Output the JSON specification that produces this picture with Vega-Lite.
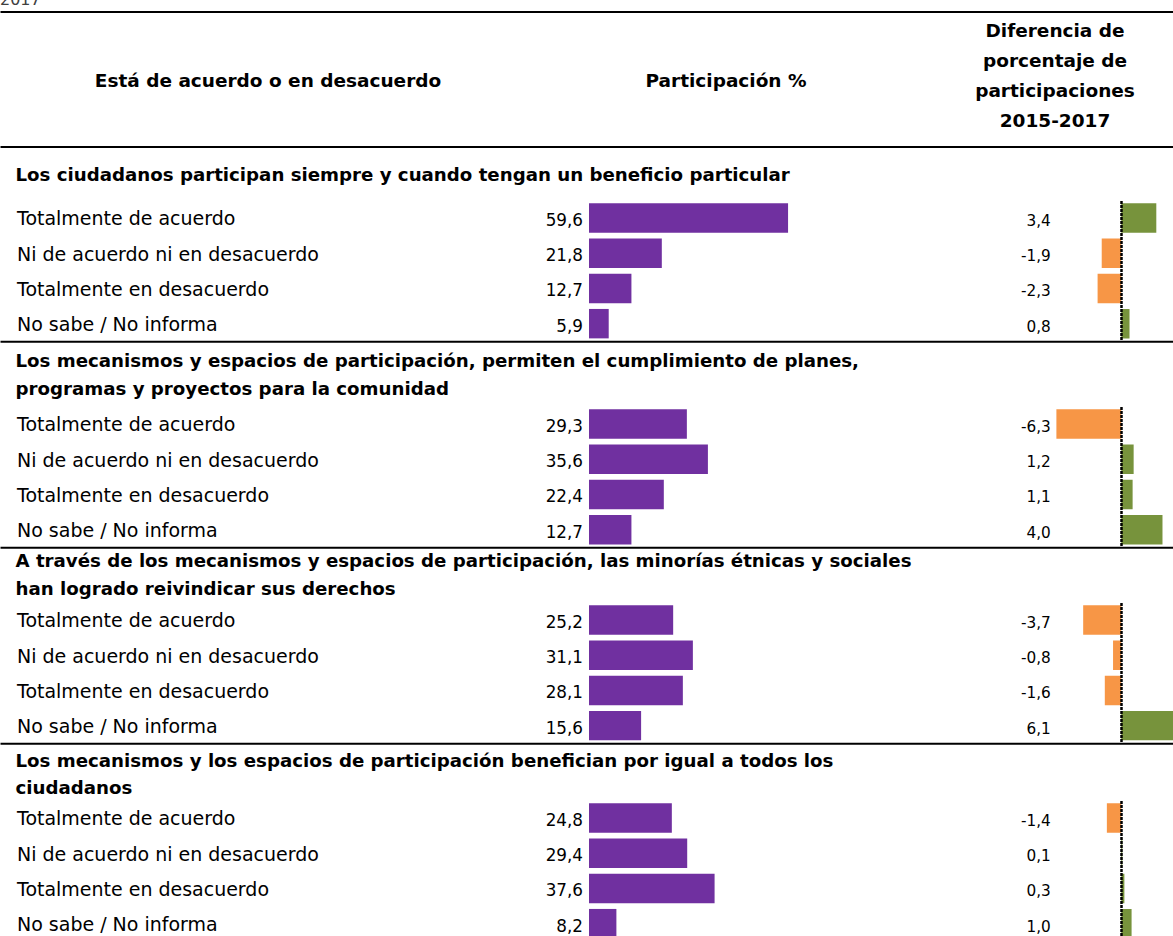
{
  "$schema": "https://vega.github.io/schema/vega-lite/v6.json",
  "background": "white",
  "padding": {"top": -8.6, "left": 0, "right": 0, "bottom": 0},
  "spacing": 0,
  "config": {
    "font": "DejaVu Sans",
    "view": {"stroke": null},
    "locale": {"number": {"decimal": ",", "thousands": ".", "grouping": [3], "currency": ["", " €"], "minus": "-"}}
  },
  "datasets": {
    "encuesta": [
      {"grupo": 1, "respuesta": "Totalmente de acuerdo", "participacion": 59.6, "diferencia": 3.4},
      {"grupo": 1, "respuesta": "Ni de acuerdo ni en desacuerdo", "participacion": 21.8, "diferencia": -1.9},
      {"grupo": 1, "respuesta": "Totalmente en desacuerdo", "participacion": 12.7, "diferencia": -2.3},
      {"grupo": 1, "respuesta": "No sabe / No informa", "participacion": 5.9, "diferencia": 0.8},
      {"grupo": 2, "respuesta": "Totalmente de acuerdo", "participacion": 29.3, "diferencia": -6.3},
      {"grupo": 2, "respuesta": "Ni de acuerdo ni en desacuerdo", "participacion": 35.6, "diferencia": 1.2},
      {"grupo": 2, "respuesta": "Totalmente en desacuerdo", "participacion": 22.4, "diferencia": 1.1},
      {"grupo": 2, "respuesta": "No sabe / No informa", "participacion": 12.7, "diferencia": 4.0},
      {"grupo": 3, "respuesta": "Totalmente de acuerdo", "participacion": 25.2, "diferencia": -3.7},
      {"grupo": 3, "respuesta": "Ni de acuerdo ni en desacuerdo", "participacion": 31.1, "diferencia": -0.8},
      {"grupo": 3, "respuesta": "Totalmente en desacuerdo", "participacion": 28.1, "diferencia": -1.6},
      {"grupo": 3, "respuesta": "No sabe / No informa", "participacion": 15.6, "diferencia": 6.1},
      {"grupo": 4, "respuesta": "Totalmente de acuerdo", "participacion": 24.8, "diferencia": -1.4},
      {"grupo": 4, "respuesta": "Ni de acuerdo ni en desacuerdo", "participacion": 29.4, "diferencia": 0.1},
      {"grupo": 4, "respuesta": "Totalmente en desacuerdo", "participacion": 37.6, "diferencia": 0.3},
      {"grupo": 4, "respuesta": "No sabe / No informa", "participacion": 8.2, "diferencia": 1.0}
    ]
  },
  "vconcat": [
    {
      "width": 1173,
      "height": 135,
      "title": {"text": "2017", "anchor": "start", "frame": "group", "fontSize": 16, "fontWeight": "normal", "color": "#404040", "offset": 3.3},
      "data": {"values": [
        {"seccion": "encabezado", "columna": 1, "encabezado": "Está de acuerdo o en desacuerdo"},
        {"seccion": "encabezado", "columna": 2, "encabezado": "Participación %"},
        {"seccion": "encabezado", "columna": 3, "encabezado": "Diferencia de\nporcentaje de\nparticipaciones\n2015-2017"}
      ]},
      "layer": [
        {
          "transform": [{"filter": "datum.columna == 1"}],
          "mark": {"type": "text", "fontSize": 18.5, "fontWeight": "bold", "baseline": "middle", "align": "center", "dy": 2, "color": "black"},
          "encoding": {
            "y": {"field": "seccion", "type": "nominal", "axis": null},
            "x": {"field": "columna", "type": "quantitative", "scale": {"domain": [0, 1, 2, 3, 4], "range": [0, 268, 726, 1055, 1173]},
                  "axis": {"orient": "top", "domain": true, "domainColor": "black", "domainWidth": 2, "ticks": false, "labels": false, "grid": false, "title": null}},
            "text": {"field": "encabezado"}
          }
        },
        {
          "transform": [{"filter": "datum.columna == 2"}],
          "mark": {"type": "text", "fontSize": 18.5, "fontWeight": "bold", "baseline": "middle", "align": "center", "dy": 2, "color": "black"},
          "encoding": {
            "y": {"field": "seccion", "type": "nominal", "axis": null},
            "x": {"field": "columna", "type": "quantitative", "scale": {"domain": [0, 1, 2, 3, 4], "range": [0, 268, 726, 1055, 1173]},
                  "axis": {"orient": "bottom", "domain": true, "domainColor": "black", "domainWidth": 2, "ticks": false, "labels": false, "grid": false, "title": null, "minExtent": 18.8}},
            "text": {"field": "encabezado"}
          }
        },
        {
          "transform": [{"filter": "datum.columna == 3"}],
          "mark": {"type": "text", "fontSize": 18.5, "fontWeight": "bold", "baseline": "middle", "align": "center", "dy": -47.5, "lineBreak": "\n", "lineHeight": 30, "color": "black"},
          "encoding": {
            "y": {"field": "seccion", "type": "nominal", "axis": null},
            "x": {"field": "columna", "type": "quantitative", "scale": {"domain": [0, 1, 2, 3, 4], "range": [0, 268, 726, 1055, 1173]}, "axis": null},
            "text": {"field": "encabezado"}
          }
        }
      ],
      "resolve": {"axis": {"x": "independent"}}
    },
    {
      "width": 1173,
      "height": 140.8,
      "title": {"text": "Los ciudadanos participan siempre y cuando tengan un beneficio particular", "anchor": "start", "frame": "group", "dx": 15.5, "offset": 15, "fontSize": 18.2, "fontWeight": "bold", "lineHeight": 27.6, "color": "black"},
      "data": {"name": "encuesta"},
      "transform": [{"filter": "datum.grupo == 1"}],
      "encoding": {
        "y": {"field": "respuesta", "type": "nominal", "sort": ["Totalmente de acuerdo", "Ni de acuerdo ni en desacuerdo", "Totalmente en desacuerdo", "No sabe / No informa"], "scale": {"type": "band", "paddingInner": 0.165, "paddingOuter": 0.08},
              "axis": {"orient": "left", "domain": false, "ticks": false, "grid": false, "title": null, "labelAlign": "left", "labelPadding": -16.5, "labelFontSize": 19, "labelColor": "black", "labelFont": "DejaVu Sans", "labelLimit": 0, "labelOverlap": false, "labelOffset": 1.5, "labelBaseline": "middle"}}
      },
      "layer": [
        {"mark": {"type": "bar", "color": "#7030A0"},
         "encoding": {
           "x": {"field": "participacion", "type": "quantitative", "scale": {"domain": [-176.35, 174.85]},
                 "axis": {"orient": "bottom", "domain": true, "domainColor": "black", "domainWidth": 2, "ticks": false, "labels": false, "grid": false, "title": null, "minExtent": 9.9}},
           "x2": {"datum": 0}
         }},
        {"mark": {"type": "text", "align": "right", "baseline": "middle", "dx": -6, "dy": 3, "fontSize": 16.8, "color": "black"},
         "encoding": {
           "x": {"datum": 0, "type": "quantitative", "scale": {"domain": [-176.35, 174.85]}, "axis": null},
           "text": {"field": "participacion", "type": "quantitative", "format": ".1f"}
         }},
        {"mark": {"type": "bar", "clip": true},
         "encoding": {
           "x": {"field": "diferencia", "type": "quantitative", "scale": {"domain": [-108.86, 5.02]},
                 "axis": {"orient": "top", "values": [0], "grid": true, "gridColor": "black", "gridWidth": 2.5, "gridDash": [3, 1], "domain": false, "ticks": false, "labels": false, "title": null, "zindex": 1}},
           "x2": {"datum": 0},
           "color": {"condition": {"test": "datum.diferencia >= 0", "value": "#77933C"}, "value": "#F79646"}
         }},
        {"mark": {"type": "text", "align": "right", "baseline": "middle", "dy": 3, "fontSize": 15.3, "color": "black"},
         "encoding": {
           "x": {"datum": -6.85, "type": "quantitative", "scale": {"domain": [-108.86, 5.02]}, "axis": null},
           "text": {"field": "diferencia", "type": "quantitative", "format": ".1f"}
         }}
      ],
      "resolve": {"scale": {"x": "independent"}, "axis": {"x": "independent"}}
    },
    {
      "width": 1173,
      "height": 140.8,
      "title": {"text": ["Los mecanismos y espacios de participación, permiten el cumplimiento de planes,", "programas y proyectos para la comunidad"], "anchor": "start", "frame": "group", "dx": 15.5, "offset": 7.4, "fontSize": 18.2, "fontWeight": "bold", "lineHeight": 27.6, "color": "black"},
      "data": {"name": "encuesta"},
      "transform": [{"filter": "datum.grupo == 2"}],
      "encoding": {
        "y": {"field": "respuesta", "type": "nominal", "sort": ["Totalmente de acuerdo", "Ni de acuerdo ni en desacuerdo", "Totalmente en desacuerdo", "No sabe / No informa"], "scale": {"type": "band", "paddingInner": 0.165, "paddingOuter": 0.08},
              "axis": {"orient": "left", "domain": false, "ticks": false, "grid": false, "title": null, "labelAlign": "left", "labelPadding": -16.5, "labelFontSize": 19, "labelColor": "black", "labelFont": "DejaVu Sans", "labelLimit": 0, "labelOverlap": false, "labelOffset": 1.5, "labelBaseline": "middle"}}
      },
      "layer": [
        {"mark": {"type": "bar", "color": "#7030A0"},
         "encoding": {
           "x": {"field": "participacion", "type": "quantitative", "scale": {"domain": [-176.35, 174.85]},
                 "axis": {"orient": "bottom", "domain": true, "domainColor": "black", "domainWidth": 2, "ticks": false, "labels": false, "grid": false, "title": null, "minExtent": 4.2}},
           "x2": {"datum": 0}
         }},
        {"mark": {"type": "text", "align": "right", "baseline": "middle", "dx": -6, "dy": 3, "fontSize": 16.8, "color": "black"},
         "encoding": {
           "x": {"datum": 0, "type": "quantitative", "scale": {"domain": [-176.35, 174.85]}, "axis": null},
           "text": {"field": "participacion", "type": "quantitative", "format": ".1f"}
         }},
        {"mark": {"type": "bar", "clip": true},
         "encoding": {
           "x": {"field": "diferencia", "type": "quantitative", "scale": {"domain": [-108.86, 5.02]},
                 "axis": {"orient": "top", "values": [0], "grid": true, "gridColor": "black", "gridWidth": 2.5, "gridDash": [3, 1], "domain": false, "ticks": false, "labels": false, "title": null, "zindex": 1}},
           "x2": {"datum": 0},
           "color": {"condition": {"test": "datum.diferencia >= 0", "value": "#77933C"}, "value": "#F79646"}
         }},
        {"mark": {"type": "text", "align": "right", "baseline": "middle", "dy": 3, "fontSize": 15.3, "color": "black"},
         "encoding": {
           "x": {"datum": -6.85, "type": "quantitative", "scale": {"domain": [-108.86, 5.02]}, "axis": null},
           "text": {"field": "diferencia", "type": "quantitative", "format": ".1f"}
         }}
      ],
      "resolve": {"scale": {"x": "independent"}, "axis": {"x": "independent"}}
    },
    {
      "width": 1173,
      "height": 140.8,
      "title": {"text": ["A través de los mecanismos y espacios de participación, las minorías étnicas y sociales", "han logrado reivindicar sus derechos"], "anchor": "start", "frame": "group", "dx": 15.5, "offset": 3.4, "fontSize": 18.2, "fontWeight": "bold", "lineHeight": 27.6, "color": "black"},
      "data": {"name": "encuesta"},
      "transform": [{"filter": "datum.grupo == 3"}],
      "encoding": {
        "y": {"field": "respuesta", "type": "nominal", "sort": ["Totalmente de acuerdo", "Ni de acuerdo ni en desacuerdo", "Totalmente en desacuerdo", "No sabe / No informa"], "scale": {"type": "band", "paddingInner": 0.165, "paddingOuter": 0.08},
              "axis": {"orient": "left", "domain": false, "ticks": false, "grid": false, "title": null, "labelAlign": "left", "labelPadding": -16.5, "labelFontSize": 19, "labelColor": "black", "labelFont": "DejaVu Sans", "labelLimit": 0, "labelOverlap": false, "labelOffset": 1.5, "labelBaseline": "middle"}}
      },
      "layer": [
        {"mark": {"type": "bar", "color": "#7030A0"},
         "encoding": {
           "x": {"field": "participacion", "type": "quantitative", "scale": {"domain": [-176.35, 174.85]},
                 "axis": {"orient": "bottom", "domain": true, "domainColor": "black", "domainWidth": 2, "ticks": false, "labels": false, "grid": false, "title": null, "minExtent": 8.2}},
           "x2": {"datum": 0}
         }},
        {"mark": {"type": "text", "align": "right", "baseline": "middle", "dx": -6, "dy": 3, "fontSize": 16.8, "color": "black"},
         "encoding": {
           "x": {"datum": 0, "type": "quantitative", "scale": {"domain": [-176.35, 174.85]}, "axis": null},
           "text": {"field": "participacion", "type": "quantitative", "format": ".1f"}
         }},
        {"mark": {"type": "bar", "clip": true},
         "encoding": {
           "x": {"field": "diferencia", "type": "quantitative", "scale": {"domain": [-108.86, 5.02]},
                 "axis": {"orient": "top", "values": [0], "grid": true, "gridColor": "black", "gridWidth": 2.5, "gridDash": [3, 1], "domain": false, "ticks": false, "labels": false, "title": null, "zindex": 1}},
           "x2": {"datum": 0},
           "color": {"condition": {"test": "datum.diferencia >= 0", "value": "#77933C"}, "value": "#F79646"}
         }},
        {"mark": {"type": "text", "align": "right", "baseline": "middle", "dy": 3, "fontSize": 15.3, "color": "black"},
         "encoding": {
           "x": {"datum": -6.85, "type": "quantitative", "scale": {"domain": [-108.86, 5.02]}, "axis": null},
           "text": {"field": "diferencia", "type": "quantitative", "format": ".1f"}
         }}
      ],
      "resolve": {"scale": {"x": "independent"}, "axis": {"x": "independent"}}
    },
    {
      "width": 1173,
      "height": 140.8,
      "title": {"text": ["Los mecanismos y los espacios de participación benefician por igual a todos los", "ciudadanos"], "anchor": "start", "frame": "group", "dx": 15.5, "offset": 1.7, "fontSize": 18.2, "fontWeight": "bold", "lineHeight": 27.6, "color": "black"},
      "data": {"name": "encuesta"},
      "transform": [{"filter": "datum.grupo == 4"}],
      "encoding": {
        "y": {"field": "respuesta", "type": "nominal", "sort": ["Totalmente de acuerdo", "Ni de acuerdo ni en desacuerdo", "Totalmente en desacuerdo", "No sabe / No informa"], "scale": {"type": "band", "paddingInner": 0.165, "paddingOuter": 0.08},
              "axis": {"orient": "left", "domain": false, "ticks": false, "grid": false, "title": null, "labelAlign": "left", "labelPadding": -16.5, "labelFontSize": 19, "labelColor": "black", "labelFont": "DejaVu Sans", "labelLimit": 0, "labelOverlap": false, "labelOffset": 1.5, "labelBaseline": "middle"}}
      },
      "layer": [
        {"mark": {"type": "bar", "color": "#7030A0"},
         "encoding": {
           "x": {"field": "participacion", "type": "quantitative", "scale": {"domain": [-176.35, 174.85]},
                 "axis": {"orient": "bottom", "domain": true, "domainColor": "black", "domainWidth": 2, "ticks": false, "labels": false, "grid": false, "title": null}},
           "x2": {"datum": 0}
         }},
        {"mark": {"type": "text", "align": "right", "baseline": "middle", "dx": -6, "dy": 3, "fontSize": 16.8, "color": "black"},
         "encoding": {
           "x": {"datum": 0, "type": "quantitative", "scale": {"domain": [-176.35, 174.85]}, "axis": null},
           "text": {"field": "participacion", "type": "quantitative", "format": ".1f"}
         }},
        {"mark": {"type": "bar", "clip": true},
         "encoding": {
           "x": {"field": "diferencia", "type": "quantitative", "scale": {"domain": [-108.86, 5.02]},
                 "axis": {"orient": "top", "values": [0], "grid": true, "gridColor": "black", "gridWidth": 2.5, "gridDash": [3, 1], "domain": false, "ticks": false, "labels": false, "title": null, "zindex": 1}},
           "x2": {"datum": 0},
           "color": {"condition": {"test": "datum.diferencia >= 0", "value": "#77933C"}, "value": "#F79646"}
         }},
        {"mark": {"type": "text", "align": "right", "baseline": "middle", "dy": 3, "fontSize": 15.3, "color": "black"},
         "encoding": {
           "x": {"datum": -6.85, "type": "quantitative", "scale": {"domain": [-108.86, 5.02]}, "axis": null},
           "text": {"field": "diferencia", "type": "quantitative", "format": ".1f"}
         }}
      ],
      "resolve": {"scale": {"x": "independent"}, "axis": {"x": "independent"}}
    }
  ]
}
